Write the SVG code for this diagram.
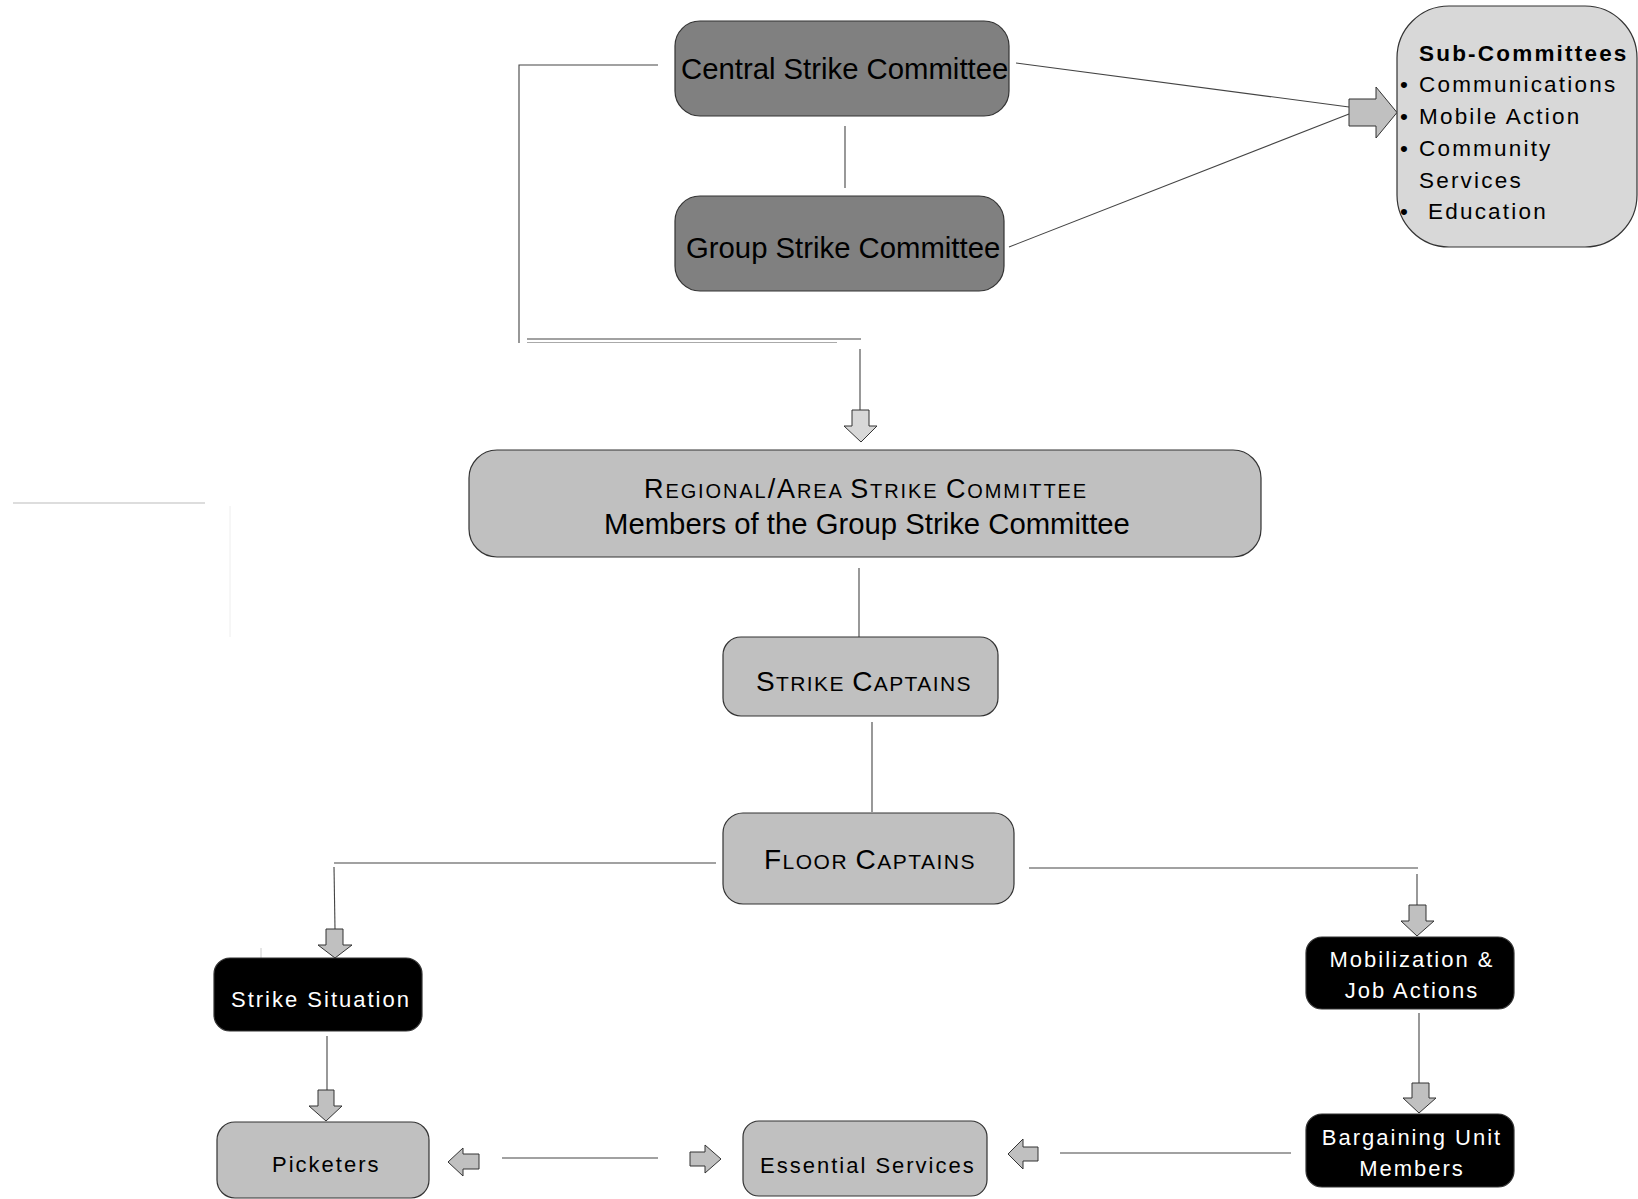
<svg xmlns="http://www.w3.org/2000/svg" width="1638" height="1199" viewBox="0 0 1638 1199">
<style>
text{font-family:"Liberation Sans",Arial,sans-serif;fill:#000}
.box{stroke:#333;stroke-width:1.2}
.dark{fill:#808080}
.mid{fill:#c0c0c0}
.light{fill:#d8d8d8}
.blk{fill:#000}
.big{font-size:29.3px}
.sm{font-size:22px;letter-spacing:2px}
.sub{font-size:22.5px;letter-spacing:2.2px}
.wt{fill:#fff}
.ln{stroke:#444;stroke-width:1.1;fill:none}
.arr{fill:#c0c0c0;stroke:#333;stroke-width:1}
</style>
<rect width="1638" height="1199" fill="#fff"/>
<g id="connectors">
<polyline class="ln" points="658,65 519,65 519,343"/>
<line class="ln" x1="527" y1="339" x2="861" y2="339"/>
<line x1="527" y1="342.5" x2="837" y2="342.5" stroke="#aaa" stroke-width="1.1"/>
<line class="ln" x1="845" y1="126" x2="845" y2="188"/>
<line class="ln" x1="860" y1="349" x2="860" y2="410" stroke="#666"/>
<polygon points="852,410 869,410 869,426 877,426 861,442 844,426 852,426" fill="#d8d8d8" stroke="#333" stroke-width="1"/>
<line class="ln" x1="1016" y1="63" x2="1349" y2="107"/>
<line class="ln" x1="1009" y1="247" x2="1349" y2="114"/>
<polygon class="arr" points="1349,99 1376,99 1376,87 1397,112.5 1376,138 1376,126 1349,126"/>
<line class="ln" x1="859" y1="568" x2="859" y2="637" stroke="#666"/>
<line class="ln" x1="872" y1="722" x2="872" y2="812"/>
<polyline class="ln" points="716,863 334,863"/>
<line class="ln" x1="334" y1="867" x2="335" y2="929" stroke="#777"/>
<polygon class="arr" points="326,929 343,929 343,945 352,945 335,958 318,945 326,945"/>
<line class="ln" x1="1029" y1="868" x2="1418" y2="868"/>
<line class="ln" x1="1417" y1="874" x2="1417" y2="905"/>
<polygon class="arr" points="1409,905 1426,905 1426,921 1434,921 1417,936 1401,921 1409,921"/>
<line class="ln" x1="327" y1="1036" x2="327" y2="1090"/>
<polygon class="arr" points="318,1090 334,1090 334,1106 342,1106 326,1121 309,1106 318,1106"/>
<line class="ln" x1="1419" y1="1013" x2="1419" y2="1083"/>
<polygon class="arr" points="1412,1083 1429,1083 1429,1098 1436,1098 1419,1113 1403,1098 1412,1098"/>
<polygon class="arr" points="448,1162 463,1148 463,1154 479,1154 479,1169 463,1169 463,1176"/>
<line class="ln" x1="502" y1="1158" x2="658" y2="1158" stroke="#666"/>
<polygon class="arr" points="690,1152 705,1152 705,1145 721,1159 705,1173 705,1166 690,1166"/>
<polygon class="arr" points="1008,1154 1023,1139 1023,1147 1038,1147 1038,1161 1023,1161 1023,1169"/>
<line class="ln" x1="1060" y1="1153" x2="1291" y2="1153" stroke="#666"/>
<line x1="13" y1="503" x2="205" y2="503" stroke="#bbb" stroke-width="1.2"/>
<line x1="230" y1="506" x2="230" y2="637" stroke="#eee" stroke-width="1"/>
<line x1="261" y1="948" x2="261" y2="958" stroke="#ccc" stroke-width="1"/>
</g>
<g id="central">
<rect class="box dark" x="675" y="21" width="334" height="95" rx="25"/>
<text class="big" x="681" y="79">Central Strike Committee</text>
</g>
<g id="group">
<rect class="box dark" x="675" y="196" width="329" height="95" rx="25"/>
<text class="big" x="686" y="258">Group Strike Committee</text>
</g>
<g id="subcommittees">
<rect class="box light" x="1397" y="6" width="240" height="241" rx="52"/>
<text class="sub" x="1419" y="61" font-weight="bold" letter-spacing="2.4">Sub-Committees</text>
<text class="sub" x="1400" y="92">•</text>
<text class="sub" x="1419" y="92">Communications</text>
<text class="sub" x="1400" y="124">•</text>
<text class="sub" x="1419" y="124">Mobile Action</text>
<text class="sub" x="1400" y="156">•</text>
<text class="sub" x="1419" y="156">Community</text>
<text class="sub" x="1419" y="188">Services</text>
<text class="sub" x="1400" y="219">•</text>
<text class="sub" x="1428" y="219">Education</text>
</g>
<g id="regional">
<rect class="box mid" x="469" y="450" width="792" height="107" rx="28"/>
<text x="644" y="498" font-size="20" letter-spacing="1.9"><tspan font-size="27">R</tspan>EGIONAL<tspan font-size="27">/A</tspan>REA <tspan font-size="27">S</tspan>TRIKE <tspan font-size="27">C</tspan>OMMITTEE</text>
<text class="big" x="604" y="534">Members of the Group Strike Committee</text>
</g>
<g id="strike-captains">
<rect class="box mid" x="723" y="637" width="275" height="79" rx="18"/>
<text x="756" y="691" font-size="21" letter-spacing="1.4"><tspan font-size="28">S</tspan>TRIKE <tspan font-size="28">C</tspan>APTAINS</text>
</g>
<g id="floor-captains">
<rect class="box mid" x="723" y="813" width="291" height="91" rx="20"/>
<text x="764" y="869" font-size="21" letter-spacing="1.5"><tspan font-size="28">F</tspan>LOOR <tspan font-size="28">C</tspan>APTAINS</text>
</g>
<g id="strike-situation">
<rect class="box blk" x="214" y="958" width="208" height="73" rx="16"/>
<text class="sm wt" x="231" y="1007" letter-spacing="1.6">Strike Situation</text>
</g>
<g id="picketers">
<rect class="box mid" x="217" y="1122" width="212" height="76" rx="18"/>
<text class="sm" x="272" y="1172" letter-spacing="1.7">Picketers</text>
</g>
<g id="essential-services">
<rect class="box mid" x="743" y="1121" width="244" height="75" rx="16"/>
<text class="sm" x="760" y="1173" letter-spacing="1.9">Essential Services</text>
</g>
<g id="mobilization">
<rect class="box blk" x="1306" y="937" width="208" height="72" rx="16"/>
<text class="sm wt" x="1412" y="967" text-anchor="middle">Mobilization &amp;</text>
<text class="sm wt" x="1412" y="998" text-anchor="middle">Job Actions</text>
</g>
<g id="bargaining">
<rect class="box blk" x="1306" y="1114" width="208" height="73" rx="16"/>
<text class="sm wt" x="1412" y="1145" text-anchor="middle">Bargaining Unit</text>
<text class="sm wt" x="1412" y="1176" text-anchor="middle">Members</text>
</g>
</svg>
